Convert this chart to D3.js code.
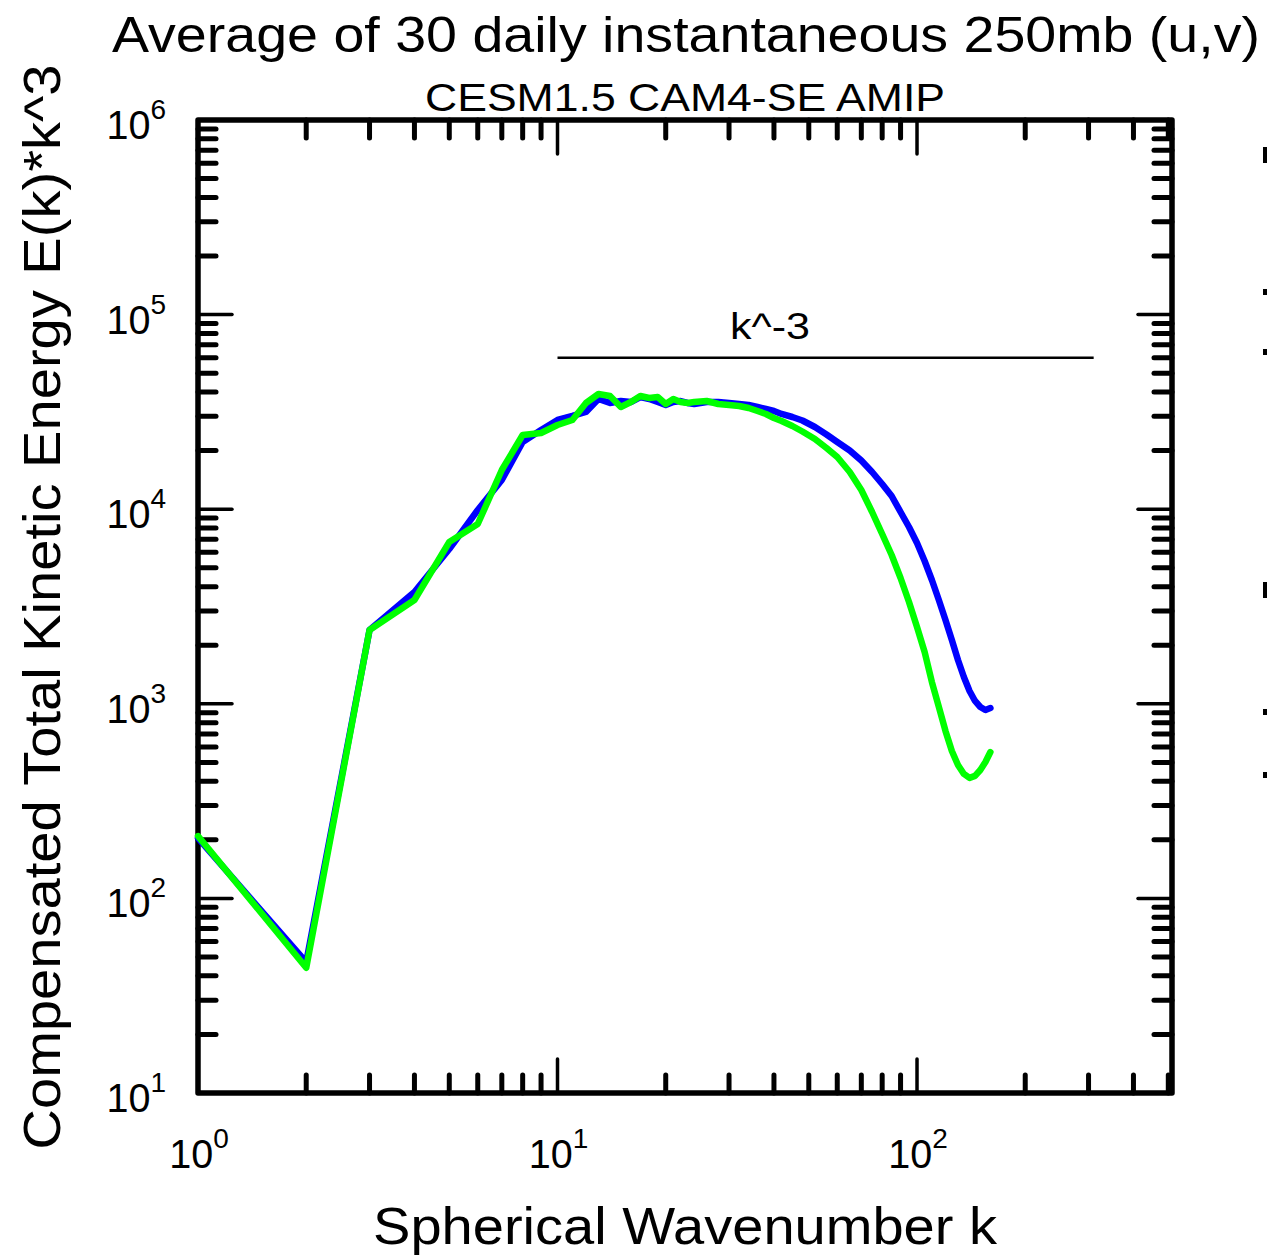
<!DOCTYPE html>
<html>
<head>
<meta charset="utf-8">
<script src="https://cdn.jsdelivr.net/npm/d3@7"></script>
<style>
  body { margin: 0; background: #fff; }
  text { font-family: "Liberation Sans", Arial, sans-serif; fill: #000; }
</style>
</head>
<body>
<div id="chart"></div>
<script>
const WIDTH = 1267
const HEIGHT = 1256

// spherical wavenumbers sampled along the curves
const wavenumbers = [1, 2, 3, 4, 5, 6, 7, 8, 9, 10, 11, 12, 13, 14, 15, 16, 17, 18, 19, 20,
  21, 22, 23, 24, 26, 28, 30, 32, 34, 36, 38, 40, 42, 45, 48, 52, 56, 60, 65, 70,
  75, 80, 85, 90, 95, 100, 105, 110, 115, 120, 125, 130, 135, 140, 145, 150, 155, 160]

// compensated KE, blue run
const blueValues = [204, 47, 2394, 3753, 6245, 9906, 14130, 22150, 25530, 28740, 30130, 31590, 36840, 35140, 35970, 35550, 37710, 36840, 35550, 34320,
  35550, 35970, 35140, 34730, 35550, 35550, 35140, 34730, 34320, 33500, 32720, 31960, 30850, 29770, 28560, 26450, 24200, 22150, 20030, 17790,
  15530, 13470, 11690, 9676, 8098, 6705, 5417, 4328, 3415, 2696, 2128, 1680, 1373, 1163, 1034, 963, 929, 951]

// compensated KE, green run
const greenValues = [209, 44, 2394, 3415, 6780, 8390, 15900, 24060, 24640, 27090, 28740, 35140, 39080, 38160, 33500, 35550, 38160, 37270, 37710, 34730,
  36840, 35550, 35140, 35550, 35970, 34730, 34320, 33920, 33110, 31960, 30850, 29420, 28390, 26770, 25070, 22950, 20630, 18550, 15530, 12550,
  9676, 7458, 5817, 4431, 3336, 2481, 1846, 1294, 963, 725, 572, 485, 436, 416, 426, 457, 502, 565]

const refK = [10, 310]
const refValue = 60000
const refLabel = "k^-3"

const titleText = "Average of 30 daily instantaneous 250mb (u,v)"
const subtitleText = "CESM1.5 CAM4-SE AMIP"
const xLabel = "Spherical Wavenumber k"
const yLabel = "Compensated Total Kinetic Energy E(k)*k^3"

const X_DOMAIN = [1, 512]
const Y_DOMAIN = [10, 1e6]

const plot = {left: 198, right: 1172, top: 120, bottom: 1093}

const svg = d3.select("#chart")
  .append("svg")
  .attr("width", WIDTH)
  .attr("height", HEIGHT)

const x = d3.scaleLog().domain(X_DOMAIN).range([plot.left, plot.right])
const y = d3.scaleLog().domain(Y_DOMAIN).range([plot.bottom, plot.top])

const isMajor = v => Math.abs(Math.log10(v) - Math.round(Math.log10(v))) < 1e-9
const xTicks = x.ticks().filter(v => v >= X_DOMAIN[0] && v <= X_DOMAIN[1])
const yTicks = y.ticks()

// Ticks on all four sides, pointing inward
const ticksG = svg.append("g").attr("id", "ticks")
const MAJOR_LEN = 34
const MINOR_LEN = 18

const tickStyle = sel => sel
  .attr("stroke", "black")
  .attr("stroke-linecap", "round")
  .attr("stroke-width", d => isMajor(d) ? 3.5 : 5)

ticksG.selectAll("line.xb")
  .data(xTicks.filter(v => v > X_DOMAIN[0]))
  .join("line")
  .attr("class", "xb")
  .attr("x1", d => x(d)).attr("x2", d => x(d))
  .attr("y1", plot.bottom).attr("y2", d => plot.bottom - (isMajor(d) ? MAJOR_LEN : MINOR_LEN))
  .call(tickStyle)

ticksG.selectAll("line.xt")
  .data(xTicks.filter(v => v > X_DOMAIN[0]))
  .join("line")
  .attr("class", "xt")
  .attr("x1", d => x(d)).attr("x2", d => x(d))
  .attr("y1", plot.top).attr("y2", d => plot.top + (isMajor(d) ? MAJOR_LEN : MINOR_LEN))
  .call(tickStyle)

ticksG.selectAll("line.yl")
  .data(yTicks.filter(v => v > Y_DOMAIN[0] && v < Y_DOMAIN[1]))
  .join("line")
  .attr("class", "yl")
  .attr("y1", d => y(d)).attr("y2", d => y(d))
  .attr("x1", plot.left).attr("x2", d => plot.left + (isMajor(d) ? MAJOR_LEN : MINOR_LEN))
  .call(tickStyle)

ticksG.selectAll("line.yr")
  .data(yTicks.filter(v => v > Y_DOMAIN[0] && v < Y_DOMAIN[1]))
  .join("line")
  .attr("class", "yr")
  .attr("y1", d => y(d)).attr("y2", d => y(d))
  .attr("x1", plot.right).attr("x2", d => plot.right - (isMajor(d) ? MAJOR_LEN : MINOR_LEN))
  .call(tickStyle)

// Frame
svg.append("rect")
  .attr("x", plot.left)
  .attr("y", plot.top)
  .attr("width", plot.right - plot.left)
  .attr("height", plot.bottom - plot.top)
  .attr("fill", "none")
  .attr("stroke", "black")
  .attr("stroke-width", 5.5)
  .attr("stroke-linejoin", "round")

// Tick labels as 10^n (the original font is a little wider than ours)
const powerLabel = (sel, n) => {
  sel.append("tspan").attr("textLength", 44).attr("lengthAdjust", "spacingAndGlyphs").text("10")
  sel.append("tspan").attr("dy", -20).attr("font-size", 28).text(n)
}

xTicks.filter(isMajor).forEach(v => {
  svg.append("text")
    .attr("x", x(v) + 1)
    .attr("y", 1168)
    .attr("text-anchor", "middle")
    .attr("font-size", 40)
    .call(powerLabel, Math.round(Math.log10(v)))
})

yTicks.filter(isMajor).forEach(v => {
  svg.append("text")
    .attr("x", 166)
    .attr("y", y(v) + 19)
    .attr("text-anchor", "end")
    .attr("font-size", 40)
    .call(powerLabel, Math.round(Math.log10(v)))
})

// Reference slope line
svg.append("line")
  .attr("x1", x(refK[0])).attr("x2", x(refK[1]))
  .attr("y1", y(refValue)).attr("y2", y(refValue))
  .attr("stroke", "black")
  .attr("stroke-width", 2.5)

svg.append("text")
  .attr("x", 770)
  .attr("y", y(refValue) - 19)
  .attr("text-anchor", "middle")
  .attr("font-size", 37)
  .attr("textLength", 80)
  .attr("lengthAdjust", "spacingAndGlyphs")
  .text(refLabel)

// Spectra
const line = d3.line()
  .x(d => x(d[0]))
  .y(d => y(d[1]))

const series = [
  {values: blueValues, color: "#0000ff"},
  {values: greenValues, color: "#00ff00"}
]

svg.append("g")
  .attr("id", "lines-g")
  .selectAll("path")
  .data(series)
  .join("path")
  .attr("d", s => line(d3.zip(wavenumbers, s.values)))
  .attr("fill", "none")
  .attr("stroke", s => s.color)
  .attr("stroke-width", 6.5)
  .attr("stroke-linejoin", "round")
  .attr("stroke-linecap", "round")

// Titles, stretched to the widths in the original
const addText = (tx, ty, size, len, str, rot) => {
  const t = svg.append("text")
    .attr("text-anchor", "middle")
    .attr("font-size", size)
    .attr("textLength", len)
    .attr("lengthAdjust", "spacingAndGlyphs")
    .text(str)
  if (rot) t.attr("transform", `translate(${tx},${ty}) rotate(-90)`)
  else t.attr("x", tx).attr("y", ty)
}

addText(686, 52, 50, 1148, titleText)
addText(685, 111, 39, 520, subtitleText)
addText(685, 1244, 52, 624, xLabel)
addText(60, 607, 52, 1085, yLabel, true)

// Edge of the neighbouring panel, cut off by the frame of the picture
const edgeMarks = [155, 292, 352, 590, 712, 775]
svg.append("g")
  .selectAll("rect")
  .data(edgeMarks)
  .join("rect")
  .attr("x", 1263)
  .attr("y", (d, i) => i === 0 || i === 3 ? d - 8 : d - 3)
  .attr("width", 4)
  .attr("height", (d, i) => i === 0 || i === 3 ? 16 : 6)
  .attr("fill", "black")
</script>
</body>
</html>
